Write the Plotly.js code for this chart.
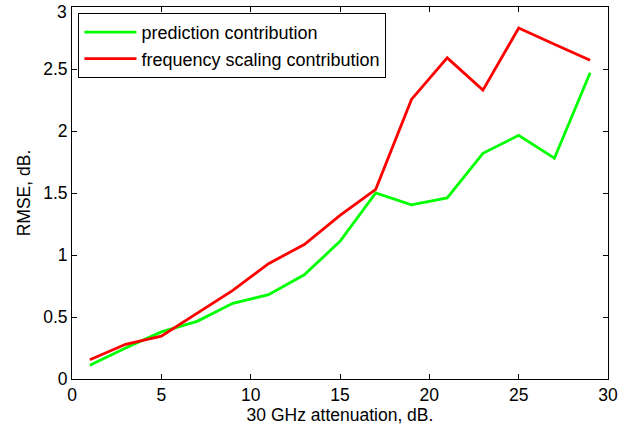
<!DOCTYPE html>
<html><head><meta charset="utf-8">
<script src="https://cdn.plot.ly/plotly-3.0.1.min.js"></script>
<style>body{margin:0;padding:0;background:#fff}#chart{width:631px;height:428px}</style>
</head><body><div id="chart"></div>
<script>
const attenuation = [1,3,5,7,9,11,13,15,17,19,21,23,25,27,29];
const predictionContribution = [0.11,0.25,0.38,0.465,0.61,0.68,0.84,1.11,1.50,1.405,1.46,1.82,1.965,1.78,2.47];
const frequencyScalingContribution = [0.155,0.28,0.345,0.53,0.715,0.93,1.085,1.32,1.53,2.255,2.59,2.33,2.83,2.70,2.57];
const xTicks = [0,5,10,15,20,25,30];
const yTicks = [0,0.5,1,1.5,2,2.5,3];
const yTickLabels = ['0','0.5','1','1.5','2','2.5','3'];

const font = {family:'Liberation Sans, Arial, sans-serif', size:17.5, color:'#000'};
const traces = [
  {x:attenuation, y:predictionContribution, type:'scatter', mode:'lines', name:'prediction contribution',
   line:{color:'#00ff00', width:2.8}},
  {x:attenuation, y:frequencyScalingContribution, type:'scatter', mode:'lines', name:'frequency scaling contribution',
   line:{color:'#ff0000', width:2.8}}
];
// the top label is drawn as an annotation so it can sit just below the plot's top edge
const lastY = yTicks[yTicks.length - 1];
const axisTickText = yTickLabels.map((t, i) => i === yTickLabels.length - 1 ? '' : t);
const axisCommon = {showgrid:false, zeroline:false, showline:true, linecolor:'#000', linewidth:1,
  mirror:'ticks', ticks:'inside', ticklen:5, tickcolor:'#000', tickfont:font};
const layout = {
  width:631, height:428,
  margin:{l:71.5, r:22.5, t:7.3, b:48.5},
  paper_bgcolor:'#fff', plot_bgcolor:'#fff',
  font:font,
  showlegend:true,
  legend:{x:0.012, y:0.984, xanchor:'left', yanchor:'top', bordercolor:'#000', borderwidth:1,
    bgcolor:'#fff', font:{family:font.family, size:18, color:'#000'}, itemwidth:52, tracegroupgap:0},
  xaxis:Object.assign({}, axisCommon, {range:[0,30], tickvals:xTicks, ticktext:xTicks.map(String),
    title:{text:'30 GHz attenuation, dB.', font:font, standoff:0}}),
  yaxis:Object.assign({}, axisCommon, {range:[0,3], tickvals:yTicks, ticktext:axisTickText,
    title:{text:'RMSE, dB.', font:font, standoff:8}}),
  annotations:[{xref:'paper', x:0, yref:'y', y:lastY, text:yTickLabels[yTickLabels.length - 1],
    showarrow:false, xanchor:'right', yanchor:'top', xshift:-3, yshift:7, font:font}]
};
Plotly.newPlot('chart', traces, layout, {displayModeBar:false, staticPlot:true});
</script></body></html>
